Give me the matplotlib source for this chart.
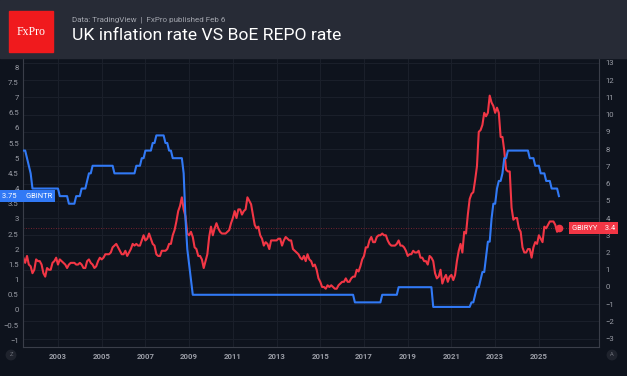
import numpy as np
import matplotlib.pyplot as plt
from matplotlib.patches import Rectangle
from matplotlib.lines import Line2D
from matplotlib.transforms import blended_transform_factory

plt.rcParams['font.family'] = ['Roboto', 'DejaVu Sans']

# monthly data, first point May 2001, last point Dec 2025
start_year = 2001
start_month = 5

# BoE bank rate, %
boe_rate = [
    5.25, 5.25, 5.25, 5.0, 4.75, 4.5, 4.0, 4.0,                        # 2001 May-Dec
    4.0, 4.0, 4.0, 4.0, 4.0, 4.0, 4.0, 4.0, 4.0, 4.0, 4.0, 4.0,       # 2002
    4.0, 3.75, 3.75, 3.75, 3.75, 3.75, 3.5, 3.5, 3.5, 3.5, 3.75, 3.75,  # 2003
    3.75, 4.0, 4.0, 4.0, 4.25, 4.5, 4.5, 4.75, 4.75, 4.75, 4.75, 4.75,  # 2004
    4.75, 4.75, 4.75, 4.75, 4.75, 4.75, 4.75, 4.5, 4.5, 4.5, 4.5, 4.5,  # 2005
    4.5, 4.5, 4.5, 4.5, 4.5, 4.5, 4.5, 4.75, 4.75, 4.75, 5.0, 5.0,     # 2006
    5.25, 5.25, 5.25, 5.25, 5.5, 5.5, 5.75, 5.75, 5.75, 5.75, 5.75, 5.5,  # 2007
    5.5, 5.25, 5.25, 5.0, 5.0, 5.0, 5.0, 5.0, 5.0, 4.5, 3.0, 2.0,     # 2008
    1.5, 1.0, 0.5, 0.5, 0.5, 0.5, 0.5, 0.5, 0.5, 0.5, 0.5, 0.5,       # 2009
    0.5, 0.5, 0.5, 0.5, 0.5, 0.5, 0.5, 0.5, 0.5, 0.5, 0.5, 0.5,       # 2010
    0.5, 0.5, 0.5, 0.5, 0.5, 0.5, 0.5, 0.5, 0.5, 0.5, 0.5, 0.5,       # 2011
    0.5, 0.5, 0.5, 0.5, 0.5, 0.5, 0.5, 0.5, 0.5, 0.5, 0.5, 0.5,       # 2012
    0.5, 0.5, 0.5, 0.5, 0.5, 0.5, 0.5, 0.5, 0.5, 0.5, 0.5, 0.5,       # 2013
    0.5, 0.5, 0.5, 0.5, 0.5, 0.5, 0.5, 0.5, 0.5, 0.5, 0.5, 0.5,       # 2014
    0.5, 0.5, 0.5, 0.5, 0.5, 0.5, 0.5, 0.5, 0.5, 0.5, 0.5, 0.5,       # 2015
    0.5, 0.5, 0.5, 0.5, 0.5, 0.5, 0.5, 0.25, 0.25, 0.25, 0.25, 0.25,  # 2016
    0.25, 0.25, 0.25, 0.25, 0.25, 0.25, 0.25, 0.25, 0.25, 0.25, 0.5, 0.5,  # 2017
    0.5, 0.5, 0.5, 0.5, 0.5, 0.5, 0.5, 0.75, 0.75, 0.75, 0.75, 0.75,  # 2018
    0.75, 0.75, 0.75, 0.75, 0.75, 0.75, 0.75, 0.75, 0.75, 0.75, 0.75, 0.75,  # 2019
    0.75, 0.75, 0.1, 0.1, 0.1, 0.1, 0.1, 0.1, 0.1, 0.1, 0.1, 0.1,     # 2020
    0.1, 0.1, 0.1, 0.1, 0.1, 0.1, 0.1, 0.1, 0.1, 0.1, 0.1, 0.25,      # 2021
    0.25, 0.5, 0.75, 0.75, 1.0, 1.25, 1.25, 1.75, 2.25, 2.25, 3.0, 3.5,  # 2022
    3.5, 4.0, 4.25, 4.25, 4.5, 5.0, 5.0, 5.25, 5.25, 5.25, 5.25, 5.25,  # 2023
    5.25, 5.25, 5.25, 5.25, 5.25, 5.25, 5.25, 5.0, 5.0, 5.0, 4.75, 4.75,  # 2024
    4.75, 4.5, 4.5, 4.5, 4.25, 4.25, 4.25, 4.0, 4.0, 4.0, 4.0, 3.75,  # 2025
]

# UK CPI, % y/y
uk_cpi = [
    1.7, 1.7, 1.4, 1.8, 1.3, 1.2, 0.8, 1.0,                  # 2001 May-Dec
    1.6, 1.5, 1.5, 1.3, 0.8, 0.6, 1.1, 1.0, 1.0, 1.4, 1.5, 1.7,  # 2002
    1.3, 1.6, 1.5, 1.4, 1.3, 1.1, 1.3, 1.4, 1.4, 1.4, 1.3, 1.3,  # 2003
    1.4, 1.3, 1.1, 1.1, 1.5, 1.6, 1.4, 1.3, 1.1, 1.2, 1.5, 1.7,  # 2004
    1.6, 1.7, 1.9, 1.9, 1.9, 2.0, 2.3, 2.4, 2.5, 2.3, 2.1, 1.9,  # 2005
    1.9, 2.1, 1.8, 2.0, 2.2, 2.5, 2.4, 2.5, 2.4, 2.4, 2.7, 3.0,  # 2006
    2.7, 2.8, 3.1, 2.8, 2.5, 2.4, 1.9, 1.8, 1.8, 2.1, 2.1, 2.1,  # 2007
    2.2, 2.5, 2.5, 3.0, 3.3, 3.8, 4.4, 4.7, 5.2, 4.5, 4.1, 3.1,  # 2008
    3.0, 3.2, 2.9, 2.3, 2.2, 1.8, 1.8, 1.6, 1.1, 1.5, 1.9, 2.9,  # 2009
    3.5, 3.0, 3.4, 3.7, 3.4, 3.2, 3.1, 3.1, 3.1, 3.2, 3.3, 3.7,  # 2010
    4.0, 4.4, 4.0, 4.5, 4.5, 4.2, 4.4, 4.5, 5.2, 5.0, 4.8, 4.2,  # 2011
    3.6, 3.4, 3.5, 3.0, 2.8, 2.4, 2.6, 2.5, 2.2, 2.7, 2.7, 2.7,  # 2012
    2.7, 2.8, 2.8, 2.4, 2.7, 2.9, 2.8, 2.7, 2.7, 2.2, 2.1, 2.0,  # 2013
    1.9, 1.7, 1.6, 1.8, 1.5, 1.9, 1.6, 1.5, 1.2, 1.3, 1.0, 0.5,  # 2014
    0.3, 0.0, 0.0, -0.1, 0.1, 0.0, 0.1, 0.0, -0.1, -0.1, 0.1, 0.2,  # 2015
    0.3, 0.3, 0.5, 0.3, 0.3, 0.5, 0.6, 0.6, 1.0, 0.9, 1.2, 1.6,  # 2016
    1.8, 2.3, 2.3, 2.7, 2.9, 2.6, 2.6, 2.9, 3.0, 3.0, 3.1, 3.0,  # 2017
    3.0, 2.7, 2.5, 2.4, 2.4, 2.4, 2.5, 2.7, 2.4, 2.4, 2.3, 2.1,  # 2018
    1.8, 1.9, 1.9, 2.1, 2.0, 2.0, 2.1, 1.7, 1.7, 1.5, 1.5, 1.3,  # 2019
    1.8, 1.7, 1.5, 0.8, 0.5, 0.6, 1.0, 0.2, 0.5, 0.7, 0.3, 0.6,  # 2020
    0.7, 0.4, 0.7, 1.5, 2.1, 2.5, 2.0, 3.2, 3.1, 4.2, 5.1, 5.4,  # 2021
    5.5, 6.2, 7.0, 9.0, 9.1, 9.4, 10.1, 9.9, 10.1, 11.1, 10.7, 10.5,  # 2022
    10.1, 10.4, 10.1, 8.7, 8.7, 7.9, 6.8, 6.7, 6.7, 4.6, 3.9, 4.0,  # 2023
    4.0, 3.4, 3.2, 2.3, 2.0, 2.0, 2.2, 2.2, 1.7, 2.3, 2.6, 2.5,  # 2024
    3.0, 2.8, 2.6, 3.5, 3.4, 3.6, 3.8, 3.8, 3.8, 3.6, 3.2, 3.4,  # 2025
]

year_ticks = list(range(2003, 2026, 2))
left_ticks = np.arange(-1, 8.01, 0.5)
right_ticks = list(range(-3, 14))

boe_name = 'GBINTR'
cpi_name = 'GBIRYY'
title = 'UK inflation rate VS BoE REPO rate'
subtitle = 'Data: TradingView  |  FxPro published Feb 6'

bg = '#0e131d'
header_bg = '#272b36'
grid_c = '#1b202b'
line_c = '#3a3e49'
tick_c = '#9a9da6'
blue = '#3179f5'
red = '#f23645'

W, H = 627, 376
def fx(p):
    return p / W
def fy(p):
    return 1 - p / H

fig = plt.figure(figsize=(W / 100, H / 100), dpi=100, facecolor=bg)

# header band
fig.patches.append(Rectangle((0, fy(58)), 1, 58 / H, transform=fig.transFigure,
                             color=header_bg, zorder=0))
fig.patches.append(Rectangle((fx(9), fy(52)), 44 / W, 41 / H, transform=fig.transFigure,
                             color='#f01a1d', zorder=1))
fig.text(fx(31), fy(32), 'FxPro', color='white', fontsize=8.5,
         family=['Liberation Serif', 'DejaVu Serif'], ha='center', va='center')
fig.text(fx(72), fy(20), subtitle, color='#a3a6ae', fontsize=5.8, va='center')
fig.text(fx(72), fy(35.5), title, color='white', fontsize=12.6, va='center')

x = start_year + (start_month - 1 + np.arange(len(uk_cpi))) / 12

# host axes: inflation, right scale
ax = fig.add_axes([fx(23), 1 - 347 / H, 576 / W, 289 / H])
ax.set_facecolor(bg)
ax.plot(x, uk_cpi, color=red, lw=1.5, solid_joinstyle='round', zorder=3)
ax.axhline(uk_cpi[-1], color=red, lw=0.6, ls=(0, (1, 2)), alpha=0.6, zorder=2)
ax.plot(x[-1], uk_cpi[-1], 'o', ms=4.5, color=red, zorder=4)
ax.set_xlim(2001.4, 2027.75)
ax.set_ylim(-3.48, 13.28)

# twin axes: bank rate, left scale
ax2 = ax.twinx()
ax2.plot(x, boe_rate, color=blue, lw=1.5, solid_joinstyle='round', zorder=3)
ax2.set_ylim(-1.22, 8.30)
ax2.yaxis.set_ticks_position('left')
ax2.set_yticks(left_ticks)
ax2.set_yticklabels([f'{v:g}'.replace('-', '\u2212') for v in left_ticks])
ax2.tick_params(axis='y', length=0, pad=3, labelsize=5.6, colors=tick_c)
for s in ['top', 'right', 'bottom']:
    ax2.spines[s].set_visible(False)
ax2.spines['left'].set_color(line_c)
ax2.spines['left'].set_linewidth(0.8)

# host ticks go right (after twinx, which moves them left)
ax.yaxis.set_ticks_position('right')
ax.set_yticks(right_ticks)
ax.set_yticklabels([str(v).replace('-', '\u2212') for v in right_ticks])
ax.set_xticks(year_ticks)
ax.set_xticklabels([str(y) for y in year_ticks], fontweight='bold')
ax.grid(color=grid_c, lw=0.7)
ax.set_axisbelow(True)
ax.tick_params(axis='y', length=0, pad=4.5, labelsize=5.6, colors=tick_c)
ax.tick_params(axis='x', length=0, pad=4, labelsize=5.6, colors=tick_c)
for s in ['top', 'left']:
    ax.spines[s].set_visible(False)
for s in ['right', 'bottom']:
    ax.spines[s].set_color(line_c)
    ax.spines[s].set_linewidth(0.8)

# axis separators running into the time scale strip
fig.lines.append(Line2D([fx(23), fx(23)], [fy(347), fy(358)], color=line_c, lw=0.8))
fig.lines.append(Line2D([fx(599), fx(599)], [fy(347), fy(358)], color=line_c, lw=0.8))
fig.lines.append(Line2D([0, 1], [fy(347.5), fy(347.5)], color=line_c, lw=0.8))

# last value labels
tb = blended_transform_factory(fig.transFigure, ax2.transData)
ax2.text(fx(2), boe_rate[-1], f'{boe_rate[-1]:g}     {boe_name}', transform=tb,
         color='white', fontsize=5.4, va='center', ha='left', clip_on=False,
         bbox=dict(boxstyle='square,pad=0.35', fc=blue, ec='none'))
tr = blended_transform_factory(fig.transFigure, ax.transData)
ax.text(fx(572), uk_cpi[-1], f'{cpi_name}    {uk_cpi[-1]:g}', transform=tr,
        color='white', fontsize=5.4, va='center', ha='left', clip_on=False,
        bbox=dict(boxstyle='square,pad=0.35', fc=red, ec='none'))

# small scale buttons
for px, letter in [(11, 'Z'), (612, 'A')]:
    fig.text(fx(px), fy(355), letter, color='#6b6e77', fontsize=4.2, ha='center', va='center',
             bbox=dict(boxstyle='circle,pad=0.5', fc='#1f232d', ec='none'))

fig.savefig('out.png', dpi=100, facecolor=bg)
